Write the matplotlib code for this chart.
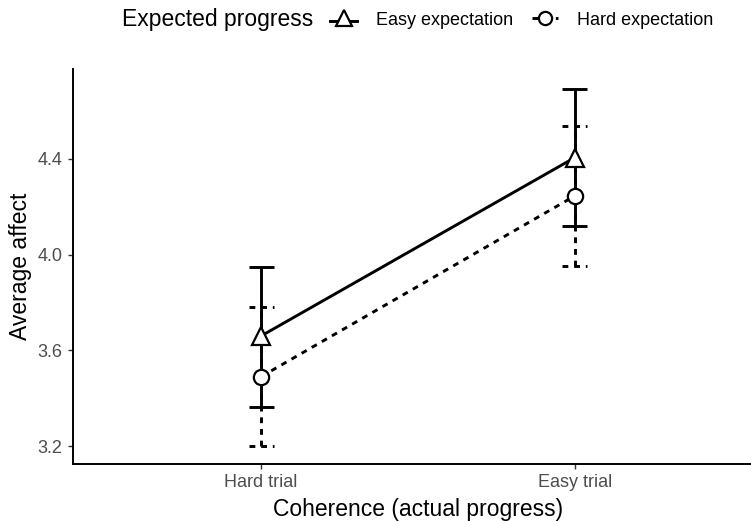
import numpy as np
import matplotlib.pyplot as plt
from matplotlib.lines import Line2D
from matplotlib.transforms import Affine2D

plt.rcParams['font.family'] = ['Liberation Sans', 'DejaVu Sans']

conditions = ["Hard trial", "Easy trial"]
easy_mean = [3.66, 4.405]
easy_lo = [3.365, 4.12]
easy_hi = [3.948, 4.692]
hard_mean = [3.49, 4.245]
hard_lo = [3.20, 3.953]
hard_hi = [3.78, 4.535]
legend_title = "Expected progress"
legend_labels = ["Easy expectation", "Hard expectation"]

x = np.arange(1, len(conditions) + 1)

W, H = 751, 521
fig = plt.figure(figsize=(W / 100, H / 100), dpi=100)
ax = fig.add_axes([73 / W, 1 - 464 / H, 690 / W, 395 / H])

lw = 2.1
dash = (0, (2.0, 2.0))
cap = 0.04
series = [
    (easy_mean, easy_lo, easy_hi, "-", "^", 13),
    (hard_mean, hard_lo, hard_hi, dash, "o", 11),
]
for m, lo, hi, ls, mk, ms in series:
    # error bars with caps in the series' line style
    ax.vlines(x, lo, hi, colors="black", lw=lw, linestyles=[ls], zorder=2)
    ax.hlines(lo, x - cap, x + cap, colors="black", lw=lw, linestyles=[ls], zorder=2)
    ax.hlines(hi, x - cap, x + cap, colors="black", lw=lw, linestyles=[ls], zorder=2)
    ax.plot(x, m, color="black", lw=lw, ls=ls, zorder=3)
    ax.plot(x, m, ls="none", marker=mk, ms=ms, mfc="white", mec="black",
            mew=1.6, zorder=4)

ax.set_xlim(0.4, 2.6)
ax.set_ylim(3.125, 4.775)
ax.set_xticks(x)
ax.set_xticklabels(conditions)
ax.set_yticks([3.2, 3.6, 4.0, 4.4])
ax.set_yticklabels(["3.2", "3.6", "4.0", "4.4"])
ax.tick_params(length=3.5, width=1, color="#333333", labelcolor="#4d4d4d",
               labelsize=13, pad=4)
for side in ["top", "right"]:
    ax.spines[side].set_visible(False)
for side in ["left", "bottom"]:
    ax.spines[side].set_linewidth(1.4)
ax.set_xlabel("Coherence (actual progress)", fontsize=16.5, labelpad=5)
ax.set_ylabel("Average affect", fontsize=16.5, labelpad=4)

# legend row along the top, placed in pixels from the top-left corner
px = Affine2D().scale(1 / 100) + fig.dpi_scale_trans
fig.text(122, H - 26, legend_title, fontsize=16.5, ha="left", va="baseline",
         transform=px)
fig.text(376, H - 25, legend_labels[0], fontsize=13, ha="left", va="baseline",
         transform=px)
fig.text(577, H - 25, legend_labels[1], fontsize=13, ha="left", va="baseline",
         transform=px)

fig.add_artist(Line2D([330, 357], [H - 20.5, H - 20.5], transform=px,
                      color="black", lw=lw))
fig.add_artist(Line2D([343.5], [H - 17.5], transform=px, ls="none", marker="^",
                      ms=11, mfc="white", mec="black", mew=1.6))
fig.add_artist(Line2D([532, 558], [H - 17.5, H - 17.5], transform=px,
                      color="black", lw=lw, ls=dash))
fig.add_artist(Line2D([545], [H - 17.5], transform=px, ls="none", marker="o",
                      ms=9.5, mfc="white", mec="black", mew=1.6))

fig.savefig("out.png", dpi=100)
